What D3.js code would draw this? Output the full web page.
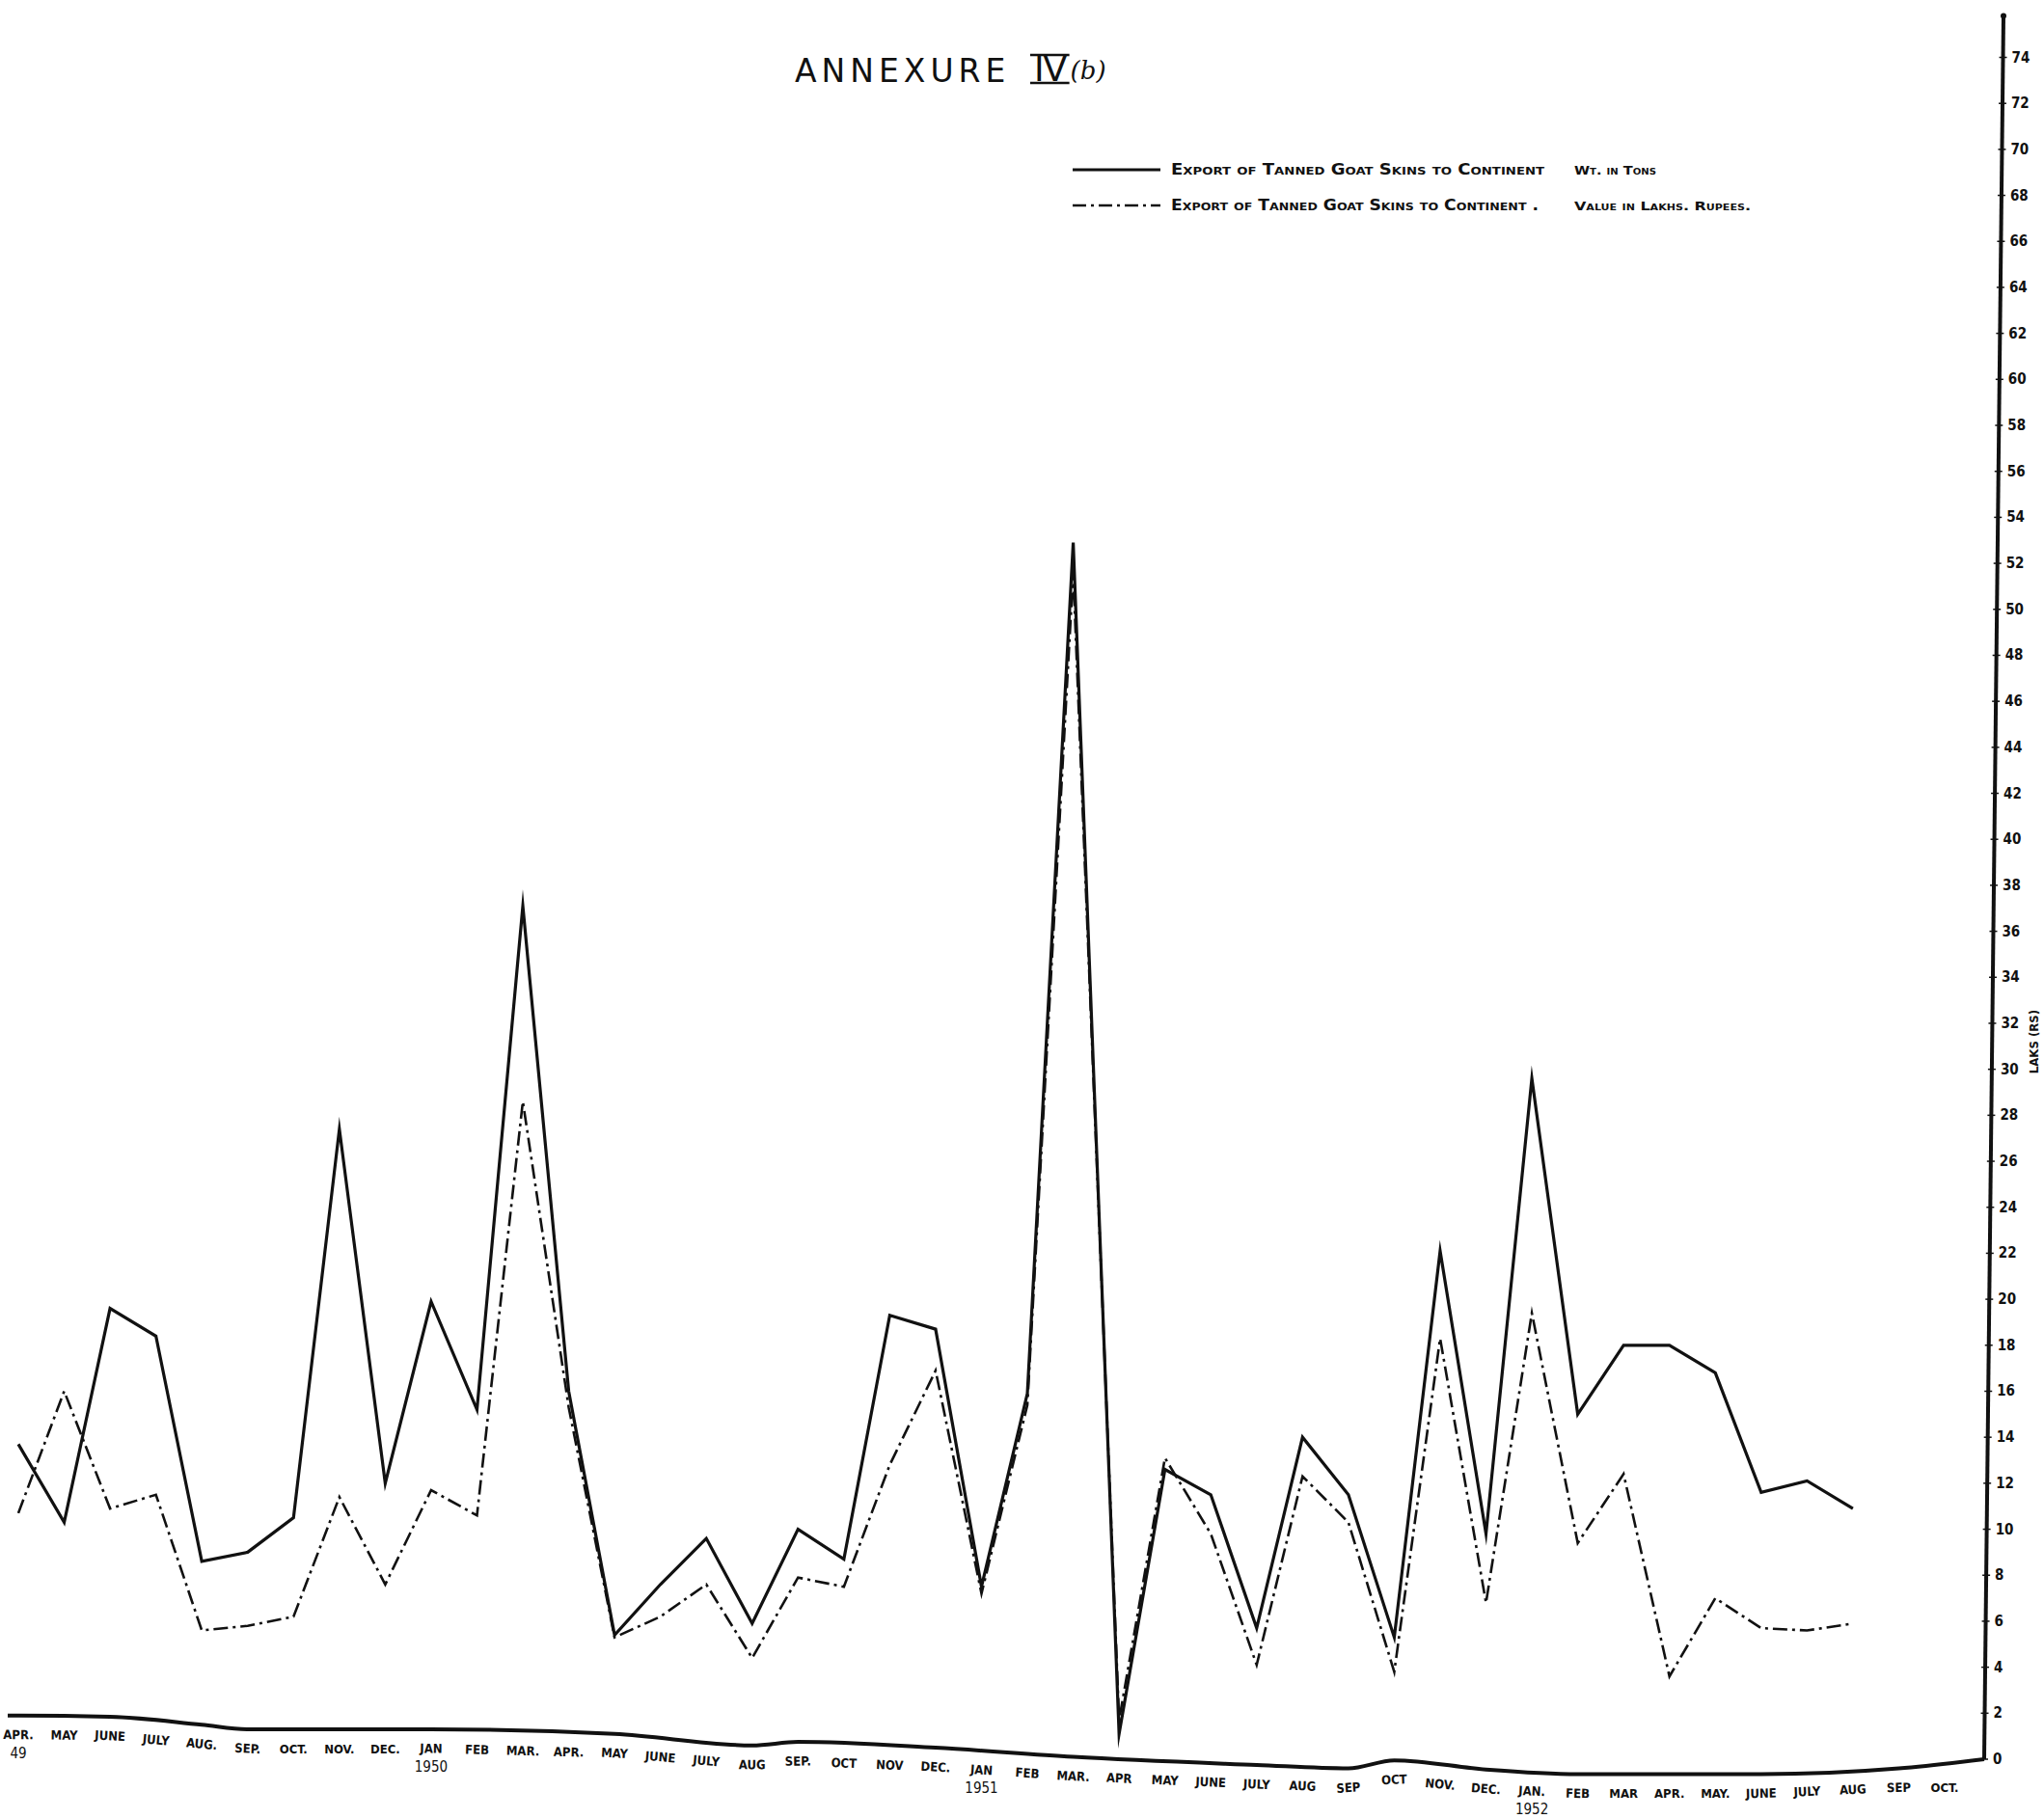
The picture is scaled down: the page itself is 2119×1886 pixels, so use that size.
<!DOCTYPE html>
<html><head><meta charset="utf-8">
<script src="https://cdn.jsdelivr.net/npm/d3@7/dist/d3.min.js"></script>
<style>
html,body{margin:0;padding:0;background:#fff;}
svg{display:block;}
</style></head><body>
<svg id="chart" width="2119" height="1886"></svg>
<script>
// ---------------- DATA ----------------
const months = ["APR.","MAY","JUNE","JULY","AUG.","SEP.","OCT.","NOV.","DEC.","JAN","FEB","MAR.",
                "APR.","MAY","JUNE","JULY","AUG","SEP.","OCT","NOV","DEC.","JAN","FEB","MAR.",
                "APR","MAY","JUNE","JULY","AUG","SEP","OCT","NOV.","DEC.","JAN.","FEB","MAR",
                "APR.","MAY.","JUNE","JULY","AUG","SEP","OCT."];
const yearIndex = [0, 9, 21, 33];
const yearText  = ["49", "1950", "1951", "1952"];

// Export of tanned goat skins to Continent – weight in tons (solid line)
const weightTons = [13.7, 10.3, 19.6, 18.4, 8.6, 9.0, 10.5, 27.4, 12.0, 19.9, 15.2, 37.1,
                    16.0, 5.4, 7.6, 9.6, 5.9, 10.0, 8.7, 19.3, 18.7, 7.5, 15.9, 52.9,
                    1.1, 12.6, 11.5, 5.7, 14.0, 11.5, 5.3, 22.1, 9.8, 29.6, 15.0, 18.0,
                    18.0, 16.8, 11.6, 12.1, 10.9];
// Export of tanned goat skins to Continent – value in lakhs of rupees (dash-dot line)
const valueLakhs = [10.7, 16.0, 10.9, 11.5, 5.6, 5.8, 6.2, 11.4, 7.6, 11.7, 10.6, 28.6,
                    15.3, 5.3, 6.2, 7.6, 4.4, 7.9, 7.5, 12.8, 16.9, 7.2, 15.4, 51.6,
                    1.7, 13.1, 9.8, 4.1, 12.3, 10.3, 3.8, 18.3, 6.8, 19.4, 9.4, 12.4,
                    3.6, 7.0, 5.7, 5.6, 5.9];

const yTicks = d3.range(0, 75, 2);

// hand-drawn x axis (it wanders a little around zero, read in axis units)
const axisBaselineIdx = [0, 2, 4, 5, 9, 13, 16, 17, 20, 23, 27, 29, 30, 32, 34, 38, 41];
const axisBaselineVal = [1.9, 1.85, 1.5, 1.3, 1.3, 1.1, 0.6, 0.75, 0.5, 0.1, -0.25, -0.4, -0.05, -0.45, -0.65, -0.65, -0.4];

const titleMain = "ANNEXURE";
const titleNum = "IV";
const titleSub = "(b)";
const legendMain = ["Export of Tanned Goat Skins to Continent", "Export of Tanned Goat Skins to Continent ."];
const legendUnit = ["Wt. in Tons", "Value in Lakhs. Rupees."];
const yAxisTitle = "LAKS (RS)";

// ---------------- LAYOUT ----------------
const svg = d3.select("#chart");
const ink = "#111";
const x = d3.scalePoint().domain(d3.range(months.length)).range([19, 2016]);
const y = d3.scaleLinear().domain([0, 74]).range([1824, 59.5]);
const axisX0 = 2057, axisSkew = 20, axisTopVal = 75.8;
const axisXAt = v => axisX0 + axisSkew * v / axisTopVal;
const baselineAt = d3.scaleLinear().domain(axisBaselineIdx).range(axisBaselineVal).clamp(true);

// ---------------- TITLE ----------------
svg.append("text").attr("x", 824).attr("y", 85)
  .attr("font-family", "DejaVu Sans").attr("font-size", 33).attr("letter-spacing", 5)
  .attr("fill", ink).text(titleMain);
const tNum = svg.append("text").attr("x", 1072).attr("y", 84)
  .attr("font-family", "DejaVu Sans").attr("font-size", 36).attr("letter-spacing", -1)
  .attr("fill", ink).text(titleNum);
const nb = tNum.node().getBBox();
[57, 86].forEach(yy => svg.append("line").attr("x1", nb.x - 4).attr("x2", nb.x + nb.width + 2)
  .attr("y1", yy).attr("y2", yy).attr("stroke", ink).attr("stroke-width", 2.5));
svg.append("text").attr("x", nb.x + nb.width + 3).attr("y", 82)
  .attr("font-family", "DejaVu Serif").attr("font-style", "italic").attr("font-size", 26)
  .attr("fill", ink).text(titleSub);

// ---------------- LEGEND ----------------
const legRows = [176, 213];
const legDash = [null, "14,5,3,5"];
legRows.forEach((ly, i) => {
  svg.append("line").attr("x1", 1112).attr("x2", 1203).attr("y1", ly).attr("y2", ly)
    .attr("stroke", ink).attr("stroke-width", i === 0 ? 3 : 2.4)
    .attr("stroke-dasharray", legDash[i]);
  svg.append("text").attr("x", 1214).attr("y", ly + 5)
    .attr("font-family", "DejaVu Sans Condensed").attr("font-weight", "bold")
    .attr("font-size", 15).attr("font-variant", "small-caps").attr("fill", ink)
    .attr("textLength", i === 0 ? 387 : 381).attr("lengthAdjust", "spacingAndGlyphs")
    .text(legendMain[i]);
  svg.append("text").attr("x", 1632).attr("y", ly + 5)
    .attr("font-family", "DejaVu Sans Condensed").attr("font-weight", "bold")
    .attr("font-size", 13).attr("font-variant", "small-caps").attr("fill", ink)
    .attr("textLength", i === 0 ? 85 : 183).attr("lengthAdjust", "spacingAndGlyphs")
    .text(legendUnit[i]);
});

// ---------------- RIGHT AXIS ----------------
svg.append("line").attr("x1", axisXAt(0)).attr("y1", y(0))
  .attr("x2", axisXAt(axisTopVal)).attr("y2", y(axisTopVal))
  .attr("stroke", ink).attr("stroke-width", 4);
svg.append("circle").attr("cx", axisXAt(axisTopVal)).attr("cy", y(axisTopVal)).attr("r", 3).attr("fill", ink);
const tk = svg.append("g");
tk.selectAll("line").data(yTicks).join("line")
  .attr("x1", d => axisXAt(d) - 4).attr("x2", d => axisXAt(d) + 4)
  .attr("y1", d => y(d)).attr("y2", d => y(d))
  .attr("stroke", ink).attr("stroke-width", 1.5);
tk.selectAll("text").data(yTicks).join("text")
  .attr("x", d => axisXAt(d) + 9).attr("y", d => y(d))
  .attr("dominant-baseline", "central")
  .attr("font-family", "DejaVu Sans Condensed").attr("font-weight", "bold").attr("font-size", 15)
  .attr("fill", ink).text(d => d);
svg.append("text").attr("transform", `translate(2108,${y(31.2)}) rotate(-90)`)
  .attr("text-anchor", "middle").attr("dominant-baseline", "central")
  .attr("font-family", "DejaVu Sans Condensed").attr("font-weight", "bold").attr("font-size", 13)
  .attr("fill", ink).text(yAxisTitle);

// ---------------- X AXIS (hand drawn baseline) ----------------
const basePts = axisBaselineIdx.map((d, i) => [x(d), y(axisBaselineVal[i])]);
basePts.unshift([8, y(axisBaselineVal[0])]);
basePts.push([axisXAt(0), y(0)]);
svg.append("path").attr("d", d3.line().curve(d3.curveMonotoneX)(basePts))
  .attr("fill", "none").attr("stroke", ink).attr("stroke-width", 4);

const step = x.step();
const mg = svg.append("g");
months.forEach((m, i) => {
  const b0 = y(baselineAt(i - 0.5)), b1 = y(baselineAt(i + 0.5));
  const ang = Math.atan2(b1 - b0, step) * 180 / Math.PI;
  const ly = y(baselineAt(i)) + 20;
  mg.append("text").attr("transform", `translate(${x(i)},${ly}) rotate(${ang})`)
    .attr("text-anchor", "middle").attr("dominant-baseline", "central")
    .attr("font-family", "DejaVu Sans Condensed").attr("font-weight", "bold").attr("font-size", 13)
    .attr("fill", ink).text(m);
});
yearIndex.forEach((idx, k) => {
  svg.append("text").attr("x", x(idx)).attr("y", y(baselineAt(idx)) + 39)
    .attr("text-anchor", "middle").attr("dominant-baseline", "central")
    .attr("font-family", "DejaVu Sans Condensed").attr("font-size", 15)
    .attr("fill", ink).text(yearText[k]);
});

// ---------------- SERIES ----------------
const lineGen = d3.line().x((d, i) => x(i)).y(d => y(d));
svg.append("path").attr("d", lineGen(valueLakhs))
  .attr("fill", "none").attr("stroke", ink).attr("stroke-width", 2.6)
  .attr("stroke-dasharray", "15,5,3,5").attr("stroke-linejoin", "miter").attr("stroke-miterlimit", 20);
svg.append("path").attr("d", lineGen(weightTons))
  .attr("fill", "none").attr("stroke", ink).attr("stroke-width", 3.2)
  .attr("stroke-linejoin", "miter").attr("stroke-miterlimit", 20);
</script>
</body></html>
